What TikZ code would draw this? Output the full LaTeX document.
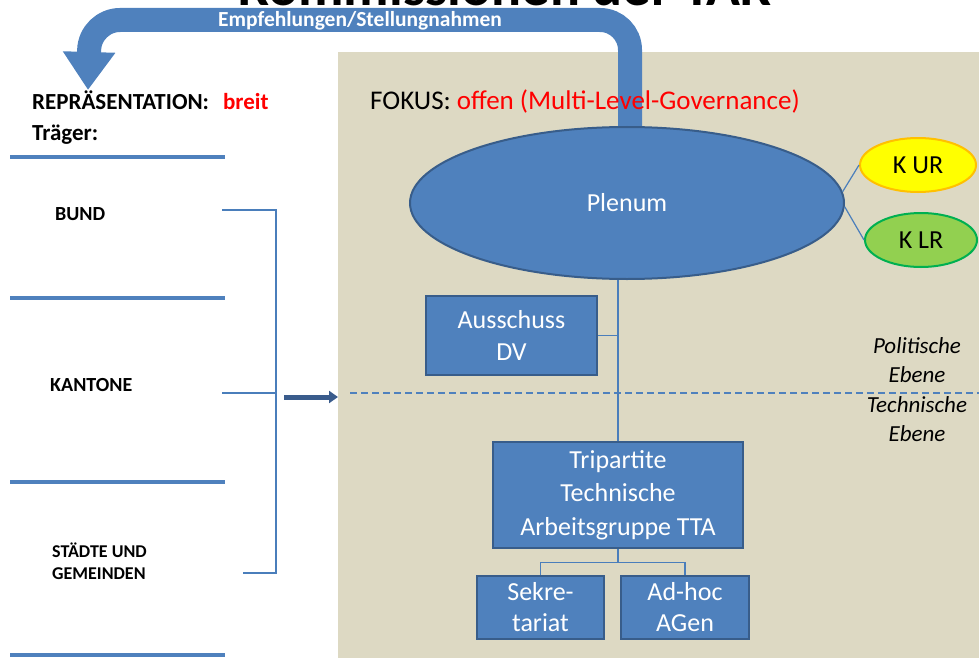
\documentclass[tikz,border=0pt]{standalone}
\usepackage{fontspec}
\setmainfont{Carlito}
\usetikzlibrary{shapes.geometric,arrows.meta}

\definecolor{tkblue}{RGB}{79,129,189}
\definecolor{tkborder}{RGB}{56,93,138}
\definecolor{tkline}{RGB}{74,126,187}
\definecolor{tkdark}{RGB}{58,92,140}
\definecolor{tkbeige}{RGB}{221,217,195}
\definecolor{tkred}{RGB}{255,0,0}
\definecolor{kurfill}{RGB}{255,255,0}
\definecolor{kurdraw}{RGB}{255,192,0}
\definecolor{klrfill}{RGB}{146,208,80}
\definecolor{klrdraw}{RGB}{0,176,80}

\begin{document}
\begin{tikzpicture}[x=1pt, y=-1pt, every node/.style={inner sep=0pt},
				box/.style={rectangle, fill=tkblue, draw=tkborder, line width=1.5pt, text=white, align=center, font=\fontsize{26}{32}\selectfont},
				rund/.style={ellipse, line width=2pt, font=\fontsize{26}{30}\selectfont},
				linie/.style={draw=tkline, line width=1.2pt},
				trenner/.style={draw=tkblue, line width=4pt},
				links/.style={anchor=base west, font=\fontsize{20}{24}\selectfont\bfseries},
				ebene/.style={align=center, font=\fontsize{23}{29}\selectfont\itshape}]
				\useasboundingbox (0,0) rectangle (979,658);
				\fill[tkbeige] (338,52) rectangle (979,658);
				
				% title, only its lower edge is on the page
				\begin{scope}
				\clip (0,0) rectangle (979,8);
				\node[anchor=base, font=\fontsize{56}{60}\selectfont\bfseries] (titel) at (505,6){Kommissionen der TAK};
				\end{scope}
				
				% feedback arrow
				\coordinate (rueckstart) at (630,135);
				\coordinate (rueckecke1) at (630,20);
				\coordinate (rueckecke2) at (90,20);
				\coordinate (rueckziel) at (88,90);
				\draw[tkblue, line width=24pt, rounded corners=30pt, -{Triangle[length=38pt, width=50pt]}] (rueckstart) -- (rueckecke1) -- (rueckecke2) -- (rueckziel);
				\node[text=white, font=\fontsize{21.5}{24}\selectfont\bfseries] (empf) at (360,21){Empfehlungen/Stellungnahmen};
				
				% left column
				\node[links, font=\fontsize{23}{26}\selectfont\bfseries] (repr) at (32,110){REPRÄSENTATION:\hspace{14pt}\textcolor{tkred}{breit}};
				\node[links, font=\fontsize{23}{26}\selectfont\bfseries] (traeger) at (32,140){Träger:};
				\foreach \y in {157,298,482,655}
					\draw[trenner] (10,\y) -- (225,\y);
				\node[links] (bund) at (55,220){BUND};
				\node[links] (kantone) at (50,391){KANTONE};
				\node[anchor=west, align=left, font=\fontsize{18}{22}\selectfont\bfseries] (staedte) at (52,561){STÄDTE UND\\GEMEINDEN};
				
				\coordinate (kl1) at (222,210);
				\coordinate (kl2) at (222,393);
				\coordinate (kl3) at (243,573);
				\coordinate (klmitte) at (276,393);
				\draw[linie] (kl1) -| (klmitte |- kl3) -- (kl3);
				\draw[linie] (kl2) -- (klmitte);
				\coordinate (pfeilstart) at (284,397);
				\coordinate (pfeilziel) at (338,397);
				\draw[tkdark, line width=5pt, -{Triangle[length=9pt, width=12pt]}] (pfeilstart) -- (pfeilziel);
				
				% focus area
				\node[anchor=base west, font=\fontsize{27}{32}\selectfont] (fokus) at (370,110){FOKUS: \textcolor{tkred}{offen (Multi-Level-Governance)}};
				\coordinate (ebenea) at (350,393);
				\coordinate (ebeneb) at (979,393);
				\draw[tkblue, line width=1.8pt, dash pattern=on 7pt off 4pt] (ebenea) -- (ebeneb);
				\node[ebene] (politisch) at (917,360){Politische\\Ebene};
				\node[ebene] (technisch) at (917,419){Technische\\Ebene};
				
				\node[rund, fill=tkblue, draw=tkborder, text=white, minimum width=434pt, minimum height=152pt] (plenum) at (627,203){Plenum};
				\node[rund, fill=kurfill, draw=kurdraw, minimum width=116pt, minimum height=54pt] (kur) at (918,165){K UR};
				\node[rund, fill=klrfill, draw=klrdraw, minimum width=112pt, minimum height=54pt] (klr) at (921,240){K LR};
				\draw[linie] (plenum.3) -- (kur.west);
				\draw[linie] (plenum.-1) -- (klr.west);
				
				\node[box, minimum width=171pt, minimum height=79pt] (ausschuss) at (511.5,335.5){Ausschuss\\DV};
				\node[box, minimum width=250pt, minimum height=106pt, font=\fontsize{26}{33.5}\selectfont] (tta) at (618,495){Tripartite\\Technische\\Arbeitsgruppe TTA};
				\node[box, minimum width=127pt, minimum height=63pt, font=\fontsize{26}{31}\selectfont] (sekretariat) at (540.5,607.5){Sekre-\\tariat};
				\node[box, minimum width=128pt, minimum height=63pt, font=\fontsize{26}{31}\selectfont] (adhoc) at (685,607.5){Ad-hoc\\AGen};
				
				\draw[linie] (tta.north) -- (tta.north |- plenum.south);
				\draw[linie] (ausschuss.east) -- (ausschuss.east -| tta.north);
				\draw[linie] (tta.south) -- ++(0,14) -| (sekretariat.north);
				\draw[linie] (tta.south) -- ++(0,14) -| (adhoc.north);
\end{tikzpicture}
\end{document}
